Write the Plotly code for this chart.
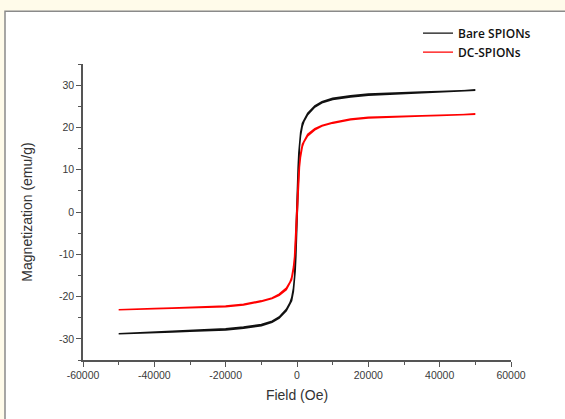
import plotly.graph_objects as go

# Field values (Oe), ascending sweep
field_up = [-50000, -45000, -40000, -35000, -30000, -25000, -20000, -15000, -10000, -7000,
            -5000, -3000, -2000, -1500, -1000, -700, -500, -300, -200, -100, 0,
            100, 200, 300, 500, 700, 1000, 1500, 2000, 3000, 5000, 7000, 10000,
            15000, 20000, 25000, 30000, 35000, 40000, 45000, 50000]
field_down = list(reversed(field_up))

# Bare SPIONs (emu/g)
bare_up = [-28.8, -28.7, -28.5, -28.4, -28.2, -28.1, -27.9, -27.5, -26.9, -26.1,
           -25.1, -23.4, -22.0, -21.0, -18.8, -16.5, -14.0, -10.5, -8.0, -5.0, -1.5,
           2.0, 5.5, 8.5, 12.5, 15.3, 18.0, 20.3, 21.5, 23.0, 24.8, 25.8, 26.6,
           27.2, 27.6, 27.8, 28.0, 28.2, 28.4, 28.6, 28.8]
bare_down = [28.8, 28.7, 28.5, 28.4, 28.2, 28.1, 27.9, 27.5, 26.9, 26.1,
             25.1, 23.4, 22.0, 21.0, 18.8, 16.5, 14.0, 10.5, 8.0, 5.0, 1.5,
             -2.0, -5.5, -8.5, -12.5, -15.3, -18.0, -20.3, -21.5, -23.0, -24.8, -25.8, -26.6,
             -27.2, -27.6, -27.8, -28.0, -28.2, -28.4, -28.6, -28.8]

# DC-SPIONs (emu/g)
dc_up = [-23.1, -23.0, -22.9, -22.8, -22.7, -22.6, -22.4, -22.0, -21.2, -20.5,
         -19.7, -18.4, -17.0, -16.0, -13.8, -11.5, -9.5, -6.8, -5.0, -3.0, -1.0,
         1.2, 3.3, 5.2, 8.3, 10.6, 13.0, 15.4, 16.6, 18.0, 19.4, 20.3, 21.0,
         21.8, 22.2, 22.4, 22.5, 22.7, 22.8, 22.9, 23.1]
dc_down = [23.1, 23.0, 22.9, 22.8, 22.7, 22.6, 22.4, 22.0, 21.2, 20.5,
           19.7, 18.4, 17.0, 16.0, 13.8, 11.5, 9.5, 6.8, 5.0, 3.0, 1.0,
           -1.2, -3.3, -5.2, -8.3, -10.6, -13.0, -15.4, -16.6, -18.0, -19.4, -20.3, -21.0,
           -21.8, -22.2, -22.4, -22.5, -22.7, -22.8, -22.9, -23.1]

x_ticks = [-60000, -40000, -20000, 0, 20000, 40000, 60000]
x_labels = ["-60000", "-40000", "-20000", "0", "20000", "40000", "60000"]
y_ticks = [-30, -20, -10, 0, 10, 20, 30]
y_labels = ["-30", "-20", "-10", "0", "10", "20", "30"]

fig = go.Figure()
fig.add_trace(go.Scatter(x=field_up + field_down, y=bare_up + bare_down, mode="lines",
                         name="Bare SPIONs", line=dict(color="#111111", width=1.4)))
fig.add_trace(go.Scatter(x=field_up + field_down, y=dc_up + dc_down, mode="lines",
                         name="DC-SPIONs", line=dict(color="#ff0000", width=1.4)))

L, R, T, B = 83, 54, 63.5, 58.5
W, H = 565, 419
pw, ph = W - L - R, H - T - B

def px(xp):
    return (xp - L) / pw

def py(yp):
    return (H - B - yp) / ph

fig.add_shape(type="rect", xref="paper", yref="paper", layer="below",
              x0=px(5), x1=px(580), y0=py(430), y1=py(10.5),
              fillcolor="white", line=dict(color="#8a8a8a", width=1.5))

tickfont = dict(family="Liberation Sans, Arial", size=10.5, color="#3a3a3a")
fig.update_layout(
    width=W, height=H,
    margin=dict(l=L, r=R, t=T, b=B, autoexpand=False),
    paper_bgcolor="#fffbea", plot_bgcolor="white",
    showlegend=True,
    legend=dict(x=px(418), y=py(18), xanchor="left", yanchor="top",
                bgcolor="rgba(0,0,0,0)", tracegroupgap=0, itemwidth=30,
                font=dict(family="Open Sans, Noto Sans", size=12, color="#111111", weight=600)),
    xaxis=dict(range=[-60000, 60000], tickvals=x_ticks, ticktext=x_labels,
               showgrid=False, zeroline=False, showline=True, linecolor="#555555", linewidth=1.5,
               ticks="outside", ticklen=5, tickwidth=1.3, tickcolor="#555555",
               minor=dict(dtick=10000, tick0=0, ticks="outside", ticklen=3, tickcolor="#555555", tickwidth=1.3),
               tickfont=tickfont,
               title=dict(text="Field (Oe)", standoff=10,
                          font=dict(family="Liberation Sans, Arial", size=14, color="#333333"))),
    yaxis=dict(range=[-35, 35], tickvals=y_ticks, ticktext=y_labels,
               showgrid=False, zeroline=False, showline=True, linecolor="#555555", linewidth=1.5,
               ticks="outside", ticklen=5, tickwidth=1.3, tickcolor="#555555",
               minor=dict(dtick=5, tick0=0, ticks="outside", ticklen=3, tickcolor="#555555", tickwidth=1.3),
               tickfont=tickfont,
               title=dict(text="Magnetization (emu/g)", standoff=23,
                          font=dict(family="Liberation Sans, Arial", size=14, color="#333333"))),
)

fig.write_html("out.html",
               config={"displayModeBar": False},
               post_script="document.body.style.margin='0';document.body.style.padding='0';"
                           "document.body.style.background='#fffbea';")
